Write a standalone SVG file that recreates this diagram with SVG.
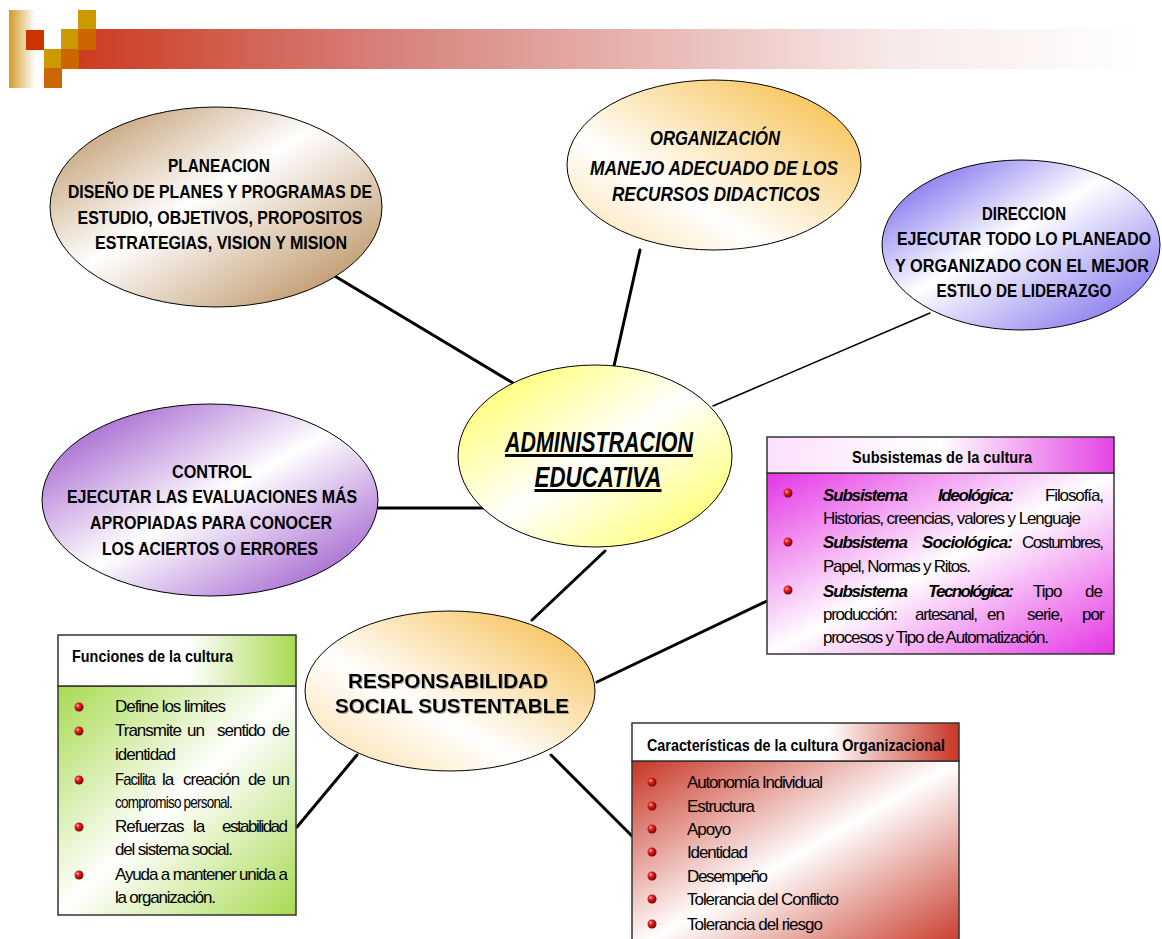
<svg xmlns="http://www.w3.org/2000/svg" xmlns:xlink="http://www.w3.org/1999/xlink" width="1162" height="939" viewBox="0 0 1162 939">
<defs>
<style>
.el{stroke:#000;stroke-width:1}
.t{font-family:"Liberation Sans",Arial,sans-serif;font-weight:bold;font-size:19px;fill:#000}
.ti{font-style:italic}
.b{font-family:"Liberation Sans",Arial,sans-serif;font-size:17px;letter-spacing:-1px;fill:#000}
.bi{font-weight:bold;font-style:italic}
.h{font-family:"Liberation Sans",Arial,sans-serif;font-weight:bold;font-size:17px;fill:#000}
.box{stroke:#333;stroke-width:1.5}
.conn{stroke:#000;stroke-width:3;fill:none;stroke-linecap:round}
</style>
<linearGradient id="gBar" x1="0" y1="0" x2="1" y2="0">
<stop offset="0" stop-color="#CC381C"/><stop offset="0.3" stop-color="#D7817B"/><stop offset="0.77" stop-color="#F7EAE8"/><stop offset="1" stop-color="#FFFFFF"/>
</linearGradient>
<linearGradient id="gStrip" x1="0" y1="0" x2="1" y2="0">
<stop offset="0" stop-color="#D29A28"/><stop offset="0.75" stop-color="#FFFFFF"/><stop offset="1" stop-color="#FFFFFF"/>
</linearGradient>
<linearGradient id="gPlan" x1="0" y1="0" x2="1" y2="1">
<stop offset="0" stop-color="#B48852"/><stop offset="0.45" stop-color="#FFFFFF"/><stop offset="1" stop-color="#B08048"/>
</linearGradient>
<linearGradient id="gOrg" x1="1" y1="0" x2="0" y2="1">
<stop offset="0" stop-color="#F6B838"/><stop offset="0.65" stop-color="#FFFFFF"/><stop offset="1" stop-color="#FBDFA8"/>
</linearGradient>
<linearGradient id="gDir" x1="0" y1="0" x2="1" y2="1">
<stop offset="0" stop-color="#5E4CEC"/><stop offset="0.45" stop-color="#FFFFFF"/><stop offset="1" stop-color="#6C5CEA"/>
</linearGradient>
<linearGradient id="gCtl" x1="0" y1="0" x2="1" y2="1">
<stop offset="0" stop-color="#8E40C4"/><stop offset="0.5" stop-color="#FFFFFF"/><stop offset="1" stop-color="#8E40C4"/>
</linearGradient>
<linearGradient id="gAdm" x1="0" y1="0" x2="1" y2="1">
<stop offset="0" stop-color="#FFFF50"/><stop offset="0.5" stop-color="#FFFFFF"/><stop offset="1" stop-color="#FFFF50"/>
</linearGradient>
<linearGradient id="gResp" x1="1" y1="0" x2="0" y2="1">
<stop offset="0" stop-color="#F6B840"/><stop offset="0.6" stop-color="#FFFFFF"/><stop offset="1" stop-color="#FBDCA0"/>
</linearGradient>
<linearGradient id="gSubH" x1="0" y1="0" x2="1" y2="0">
<stop offset="0" stop-color="#FBE0FB"/><stop offset="0.5" stop-color="#FFFFFF"/><stop offset="1" stop-color="#E444E4"/>
</linearGradient>
<linearGradient id="gSubB" x1="0" y1="0" x2="1" y2="1">
<stop offset="0" stop-color="#E434E4"/><stop offset="0.5" stop-color="#FFFFFF"/><stop offset="1" stop-color="#E434E4"/>
</linearGradient>
<linearGradient id="gFunH" x1="0" y1="0" x2="1" y2="0">
<stop offset="0" stop-color="#FFFFFF"/><stop offset="0.55" stop-color="#FFFFFF"/><stop offset="1" stop-color="#A8DA50"/>
</linearGradient>
<linearGradient id="gFunB" x1="0" y1="0" x2="1" y2="1">
<stop offset="0" stop-color="#A8DA50"/><stop offset="0.5" stop-color="#FFFFFF"/><stop offset="1" stop-color="#A8DA50"/>
</linearGradient>
<linearGradient id="gCarH" x1="0" y1="0" x2="1" y2="0">
<stop offset="0" stop-color="#FFFFFF"/><stop offset="0.6" stop-color="#FFFFFF"/><stop offset="1" stop-color="#C83524"/>
</linearGradient>
<linearGradient id="gCarB" x1="0" y1="0" x2="1" y2="1">
<stop offset="0" stop-color="#C83524"/><stop offset="0.5" stop-color="#FFFFFF"/><stop offset="1" stop-color="#C83524"/>
</linearGradient>
<radialGradient id="gBul" cx="0.35" cy="0.35" r="0.7">
<stop offset="0" stop-color="#FFB0A0"/><stop offset="0.35" stop-color="#E02020"/><stop offset="1" stop-color="#700000"/>
</radialGradient>
<symbol id="bul" overflow="visible"><circle cx="0" cy="0" r="4.5" fill="url(#gBul)"/></symbol>
<filter id="shadow" x="-10%" y="-10%" width="120%" height="130%">
<feDropShadow dx="1" dy="1" stdDeviation="0.6" flood-color="#888" flood-opacity="0.7"/>
</filter>
</defs>

<rect width="1162" height="939" fill="#FFFFFF"/>

<g id="header">
<rect x="62" y="29" width="1084" height="40" fill="url(#gBar)"/>
<rect x="9" y="10" width="35" height="78" fill="url(#gStrip)"/>
<rect x="26" y="30" width="18" height="20" fill="#CC3300"/>
<rect x="44" y="49" width="18" height="19" fill="#CC9900"/>
<rect x="44" y="68" width="18" height="20" fill="#CC6600"/>
<rect x="61" y="29" width="18" height="20" fill="#CC9900"/>
<rect x="61" y="49" width="18" height="20" fill="#CC6600"/>
<rect x="78" y="10" width="18" height="20" fill="#CC9900"/>
<rect x="78" y="29" width="18" height="21" fill="#CC6600"/>
</g>

<g id="connectors">
<line class="conn" x1="333" y1="275" x2="513" y2="383"/>
<line class="conn" x1="640" y1="250" x2="614" y2="366"/>
<line class="conn" x1="930" y1="313" x2="713" y2="406" style="stroke-width:1.5"/>
<line class="conn" x1="378" y1="508" x2="485" y2="508"/>
<line class="conn" x1="605" y1="551" x2="532" y2="620"/>
<line class="conn" x1="597" y1="682" x2="767" y2="601"/>
<line class="conn" x1="357" y1="755" x2="297" y2="827"/>
<line class="conn" x1="551" y1="755" x2="632" y2="836"/>
</g>

<g id="planeacion">
<ellipse class="el" cx="216" cy="207" rx="166" ry="100" fill="url(#gPlan)"/>
<text class="t" x="219" y="172" text-anchor="middle" textLength="102" lengthAdjust="spacingAndGlyphs">PLANEACION</text>
<text class="t" x="220" y="198" text-anchor="middle" textLength="304" lengthAdjust="spacingAndGlyphs">DISEÑO DE PLANES Y PROGRAMAS DE</text>
<text class="t" x="220" y="224" text-anchor="middle" textLength="285" lengthAdjust="spacingAndGlyphs">ESTUDIO, OBJETIVOS, PROPOSITOS</text>
<text class="t" x="221" y="249" text-anchor="middle" textLength="252" lengthAdjust="spacingAndGlyphs">ESTRATEGIAS, VISION Y MISION</text>
</g>

<g id="organizacion">
<ellipse class="el" cx="714" cy="165" rx="147" ry="85" fill="url(#gOrg)"/>
<text class="t ti" style="font-size:20px" x="715" y="145" text-anchor="middle" textLength="130" lengthAdjust="spacingAndGlyphs">ORGANIZACIÓN</text>
<text class="t ti" style="font-size:20px" x="714" y="175" text-anchor="middle" textLength="248" lengthAdjust="spacingAndGlyphs">MANEJO ADECUADO DE LOS</text>
<text class="t ti" style="font-size:20px" x="716" y="201" text-anchor="middle" textLength="208" lengthAdjust="spacingAndGlyphs">RECURSOS DIDACTICOS</text>
</g>

<g id="direccion">
<ellipse class="el" cx="1021" cy="245" rx="139" ry="85" fill="url(#gDir)"/>
<text class="t" x="1024" y="220" text-anchor="middle" textLength="84" lengthAdjust="spacingAndGlyphs">DIRECCION</text>
<text class="t" x="1024" y="245" text-anchor="middle" textLength="254" lengthAdjust="spacingAndGlyphs">EJECUTAR TODO LO PLANEADO</text>
<text class="t" x="1022" y="272" text-anchor="middle" textLength="254" lengthAdjust="spacingAndGlyphs">Y ORGANIZADO CON EL MEJOR</text>
<text class="t" x="1024" y="297" text-anchor="middle" textLength="175" lengthAdjust="spacingAndGlyphs">ESTILO DE LIDERAZGO</text>
</g>

<g id="control">
<ellipse class="el" cx="210" cy="500" rx="168" ry="96" fill="url(#gCtl)"/>
<text class="t" x="212" y="478" text-anchor="middle" textLength="80" lengthAdjust="spacingAndGlyphs">CONTROL</text>
<text class="t" x="212" y="503" text-anchor="middle" textLength="290" lengthAdjust="spacingAndGlyphs">EJECUTAR LAS EVALUACIONES MÁS</text>
<text class="t" x="211" y="529" text-anchor="middle" textLength="242" lengthAdjust="spacingAndGlyphs">APROPIADAS PARA CONOCER</text>
<text class="t" x="210" y="555" text-anchor="middle" textLength="216" lengthAdjust="spacingAndGlyphs">LOS ACIERTOS O ERRORES</text>
</g>

<g id="administracion">
<ellipse class="el" cx="595" cy="456" rx="137" ry="91" fill="url(#gAdm)"/>
<text class="t ti" style="font-size:30px;text-decoration:underline" x="599" y="452" text-anchor="middle" textLength="188" lengthAdjust="spacingAndGlyphs">ADMINISTRACION</text>
<text class="t ti" style="font-size:30px;text-decoration:underline" x="598" y="487" text-anchor="middle" textLength="127" lengthAdjust="spacingAndGlyphs">EDUCATIVA</text>
</g>

<g id="responsabilidad">
<ellipse class="el" cx="450" cy="691" rx="145" ry="80" fill="url(#gResp)"/>
<g filter="url(#shadow)">
<text class="t" style="font-size:21px" x="448" y="688" text-anchor="middle" textLength="200" lengthAdjust="spacingAndGlyphs">RESPONSABILIDAD</text>
<text class="t" style="font-size:21px" x="452" y="713" text-anchor="middle" textLength="234" lengthAdjust="spacingAndGlyphs">SOCIAL SUSTENTABLE</text>
</g>
</g>

<g id="subsistemas">
<rect class="box" x="767" y="473" width="347" height="181" fill="url(#gSubB)"/>
<rect class="box" x="767" y="437" width="347" height="36" fill="url(#gSubH)"/>
<text class="h" x="942" y="463" text-anchor="middle" textLength="180" lengthAdjust="spacingAndGlyphs">Subsistemas de la cultura</text>
<use href="#bul" x="788" y="493"/>
<use href="#bul" x="788" y="542"/>
<use href="#bul" x="788" y="590"/>
<text class="b bi" x="823" y="501" textLength="84" lengthAdjust="spacing">Subsistema</text>
<text class="b bi" x="938" y="501" textLength="75" lengthAdjust="spacing">Ideológica:</text>
<text class="b" x="1045" y="501" textLength="58" lengthAdjust="spacing">Filosofía,</text>
<text class="b" x="823" y="524" textLength="257" lengthAdjust="spacing">Historias, creencias, valores y Lenguaje</text>
<text class="b bi" x="823" y="548" textLength="84" lengthAdjust="spacing">Subsistema</text>
<text class="b bi" x="922" y="548" textLength="90" lengthAdjust="spacing">Sociológica:</text>
<text class="b" x="1022" y="548" textLength="81" lengthAdjust="spacing">Costumbres,</text>
<text class="b" x="823" y="572" textLength="147" lengthAdjust="spacing">Papel, Normas y Ritos.</text>
<text class="b bi" x="823" y="597" textLength="84" lengthAdjust="spacing">Subsistema</text>
<text class="b bi" x="928" y="597" textLength="85" lengthAdjust="spacing">Tecnológica:</text>
<text class="b" x="1033" y="597">Tipo</text>
<text class="b" x="1085" y="597">de</text>
<text class="b" x="823" y="620" textLength="74" lengthAdjust="spacing">producción:</text>
<text class="b" x="915" y="620" textLength="62" lengthAdjust="spacing">artesanal,</text>
<text class="b" x="987" y="620">en</text>
<text class="b" x="1027" y="620">serie,</text>
<text class="b" x="1082" y="620">por</text>
<text class="b" x="823" y="643" textLength="225" lengthAdjust="spacing">procesos y Tipo de Automatización.</text>
</g>

<g id="funciones">
<rect class="box" x="58" y="686" width="238" height="229" fill="url(#gFunB)"/>
<rect class="box" x="58" y="635" width="238" height="51" fill="url(#gFunH)"/>
<text class="h" x="72" y="662" textLength="161" lengthAdjust="spacingAndGlyphs">Funciones de la cultura</text>
<use href="#bul" x="79" y="707"/>
<use href="#bul" x="79" y="731"/>
<use href="#bul" x="79" y="780"/>
<use href="#bul" x="79" y="827"/>
<use href="#bul" x="79" y="875"/>
<text class="b" x="115" y="712" textLength="110" lengthAdjust="spacing">Define los limites</text>
<text class="b" x="115" y="736">Transmite</text>
<text class="b" x="187" y="736">un</text>
<text class="b" x="217" y="736">sentido</text>
<text class="b" x="272" y="736">de</text>
<text class="b" x="115" y="760">identidad</text>
<text class="b" x="115" y="785" textLength="40" lengthAdjust="spacingAndGlyphs">Facilita</text>
<text class="b" x="162" y="785">la</text>
<text class="b" x="183" y="785">creación</text>
<text class="b" x="248" y="785">de</text>
<text class="b" x="272" y="785">un</text>
<text class="b" x="115" y="808" textLength="117" lengthAdjust="spacingAndGlyphs">compromiso personal.</text>
<text class="b" x="115" y="832">Refuerzas</text>
<text class="b" x="193" y="832">la</text>
<text class="b" x="222" y="832" textLength="65" lengthAdjust="spacing">estabilidad</text>
<text class="b" x="115" y="855" textLength="117" lengthAdjust="spacing">del sistema social.</text>
<text class="b" x="115" y="880" textLength="172" lengthAdjust="spacing">Ayuda a mantener unida a</text>
<text class="b" x="115" y="903" textLength="100" lengthAdjust="spacing">la organización.</text>
</g>

<g id="caracteristicas">
<rect class="box" x="632" y="761" width="327" height="190" fill="url(#gCarB)"/>
<rect class="box" x="632" y="723" width="327" height="38" fill="url(#gCarH)"/>
<text class="h" x="796" y="751" text-anchor="middle" textLength="298" lengthAdjust="spacingAndGlyphs">Características de la cultura Organizacional</text>
<use href="#bul" x="652" y="782"/>
<use href="#bul" x="652" y="806"/>
<use href="#bul" x="652" y="829"/>
<use href="#bul" x="652" y="852"/>
<use href="#bul" x="652" y="876"/>
<use href="#bul" x="652" y="899"/>
<use href="#bul" x="652" y="924"/>
<text class="b" x="687" y="788" textLength="135" lengthAdjust="spacing">Autonomía Individual</text>
<text class="b" x="687" y="812" textLength="67" lengthAdjust="spacing">Estructura</text>
<text class="b" x="687" y="835">Apoyo</text>
<text class="b" x="687" y="858" textLength="60" lengthAdjust="spacing">Identidad</text>
<text class="b" x="687" y="882" textLength="80" lengthAdjust="spacing">Desempeño</text>
<text class="b" x="687" y="905" textLength="151" lengthAdjust="spacing">Tolerancia del Conflicto</text>
<text class="b" x="687" y="930" textLength="135" lengthAdjust="spacing">Tolerancia del riesgo</text>
</g>
</svg>
